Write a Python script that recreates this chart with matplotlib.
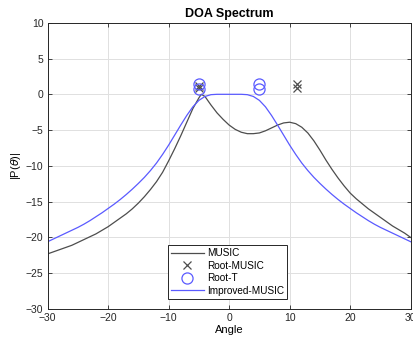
"""DOA spectrum: MUSIC vs Improved-MUSIC with root estimates."""

import matplotlib
matplotlib.use("Agg")
import matplotlib.pyplot as plt

plt.rcParams["font.family"] = ["Liberation Sans", "DejaVu Sans"]

angles = list(range(-30, 31))

music_db = [
    -22.3, -22.0, -21.7, -21.4, -21.1, -20.7, -20.3, -19.9, -19.5, -19.0,
    -18.5, -17.9, -17.3, -16.7, -16.0, -15.2, -14.3, -13.3, -12.2, -10.9,
    -9.3, -7.6, -5.8, -3.9, -2.0, -0.5, -0.3, -1.5, -2.6, -3.5,
    -4.3, -4.9, -5.3, -5.5, -5.5, -5.4, -5.1, -4.7, -4.3, -4.0,
    -3.9, -4.1, -4.6, -5.4, -6.5, -7.8, -9.2, -10.5, -11.7, -12.8,
    -13.8, -14.6, -15.3, -16.0, -16.6, -17.2, -17.8, -18.4, -18.9, -19.4,
    -20.0,
]
# peak of MUSIC sits a little right of -5
music_peak_angle = -4.6
music_peak_db = 0.0

improved_half = [  # |angle| = 30 ... 0
    -20.6, -20.2, -19.8, -19.4, -19.0, -18.6, -18.15, -17.65, -17.1, -16.55,
    -15.95, -15.35, -14.7, -14.0, -13.25, -12.45, -11.6, -10.65, -9.6, -8.4,
    -7.1, -5.7, -4.3, -2.95, -1.75, -0.85, -0.3, -0.05, 0.0, 0.0, 0.0,
]
improved_db = improved_half + improved_half[-2::-1]

root_music_x = [-5.0, -5.0, 11.2, 11.2]
root_music_y = [0.9, 1.2, 0.9, 1.4]
root_t_x = [-5.0, -5.0, 5.0, 5.0]
root_t_y = [0.8, 1.5, 0.8, 1.5]

gray = "#4d4d4d"
blue = "#5a5aff"

fig = plt.figure(figsize=(4.14, 3.42), dpi=100)
ax = fig.add_axes([0.115, 0.0965, 0.877, 0.837])

# insert the peak sample into the MUSIC curve
m_x = angles[:26] + [music_peak_angle] + angles[26:]
m_y = music_db[:26] + [music_peak_db] + music_db[26:]

ax.plot(m_x, m_y, color=gray, lw=0.9, label="MUSIC")
ax.plot(root_music_x, root_music_y, "x", color=gray, ms=5.5, mew=0.9,
        label="Root-MUSIC")
ax.plot(root_t_x, root_t_y, "o", mfc="none", mec=blue, ms=8, mew=0.9,
        label="Root-T")
ax.plot(angles, improved_db, color=blue, lw=0.9, label="Improved-MUSIC")

ax.set_xlim(-30, 30)
ax.set_ylim(-30, 10)
ax.set_xticks(range(-30, 31, 10))
ax.set_yticks(range(-30, 11, 5))
ax.grid(True, color="#e0e0e0", lw=0.7)
ax.set_axisbelow(True)
ax.tick_params(direction="in", length=3, width=0.6, top=True, right=True,
               labelsize=7.5, colors="#262626", pad=3)
for sp in ax.spines.values():
    sp.set_color("#262626")
    sp.set_linewidth(0.7)

ax.set_title("DOA Spectrum", fontsize=9, fontweight="bold", pad=4)
ax.set_xlabel("Angle", fontsize=8, labelpad=1)
ax.set_ylabel(r"|P($\theta$)|", fontsize=8, labelpad=2)

leg = ax.legend(loc="lower left", bbox_to_anchor=(0.331, 0.035), fontsize=7.2,
                fancybox=False, framealpha=1, edgecolor="#262626",
                handlelength=3.3, borderpad=0.3, labelspacing=0.25,
                handletextpad=0.3, borderaxespad=0)
leg.get_frame().set_linewidth(0.7)

fig.savefig("out.png", dpi=100)
